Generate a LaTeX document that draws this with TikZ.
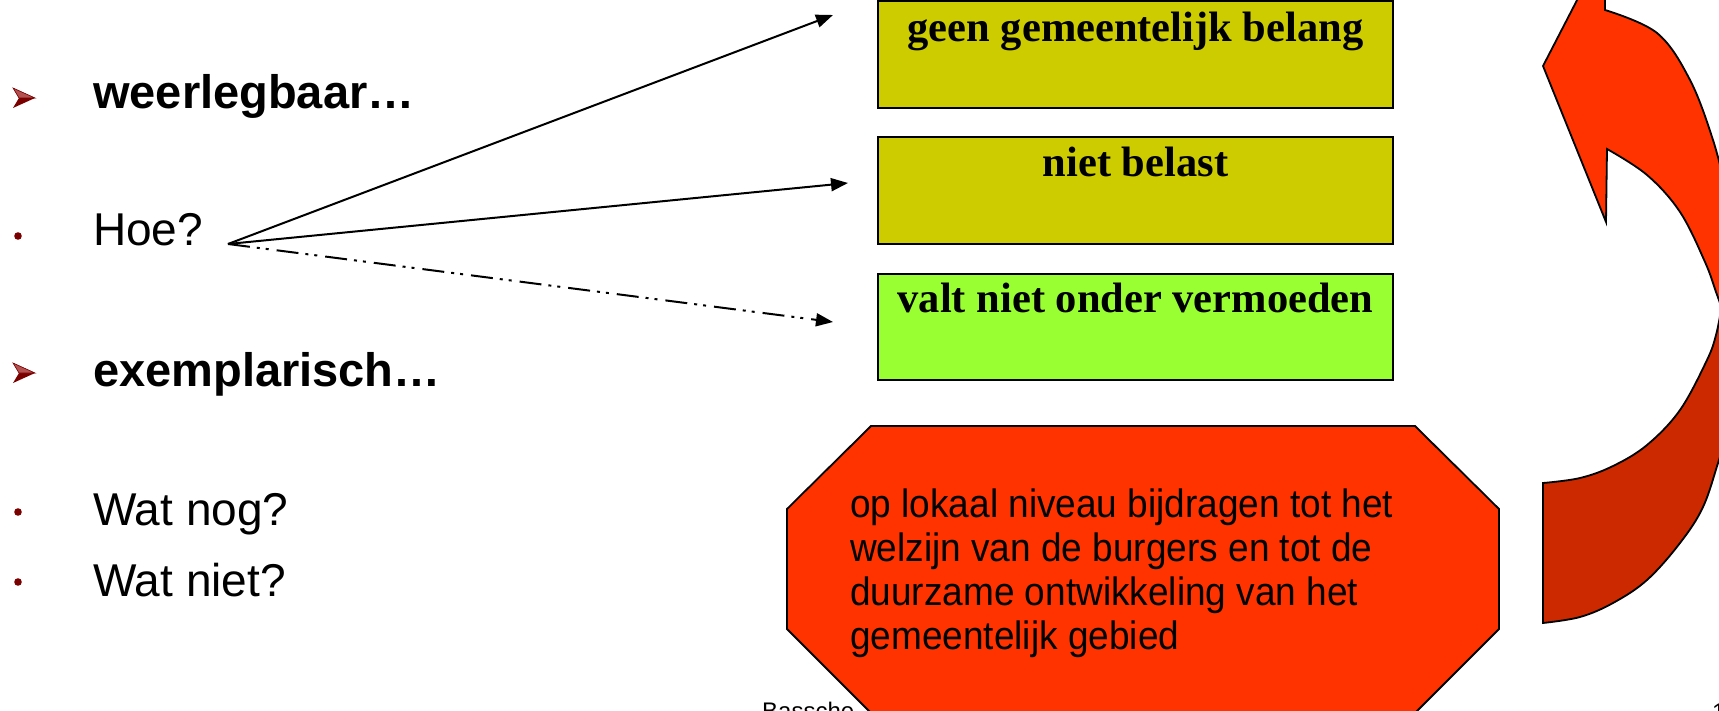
\documentclass[tikz,border=0pt]{standalone}
\usepackage{fontspec}
\setmainfont{Liberation Serif}
\newfontfamily\arialfont{Liberation Sans}
\usetikzlibrary{arrows.meta}
\definecolor{boxolive}{HTML}{CCCC00}
\definecolor{boxlime}{HTML}{99FF33}
\definecolor{hotred}{HTML}{FF3300}
\definecolor{deepred}{HTML}{CC2900}
\definecolor{bulletred}{HTML}{7A0000}
\definecolor{bulletlight}{HTML}{B35050}
\begin{document}
\begin{tikzpicture}[x=1pt,y=-1pt,
  leftlabel/.style={anchor=base west, inner sep=0pt, font=\arialfont\fontsize{46}{55}\selectfont},
  leftbold/.style={anchor=base west, inner sep=0pt, font=\arialfont\bfseries\fontsize{47}{56}\selectfont},
  boxshape/.style={draw=black, line width=2pt, minimum width=515pt, inner sep=0pt},
  boxtext/.style={anchor=base, inner sep=0pt, font=\bfseries\fontsize{42.5}{50}\selectfont},
  conn/.style={line width=2pt, -{Triangle[length=17pt,width=13pt]}},
  dotbullet/.style={fill=bulletred, draw=none},
  smalltext/.style={anchor=base west, inner sep=0pt, font=\arialfont\fontsize{24}{28}\selectfont},
  shapeline/.style={draw=black, line width=1.8pt, line join=miter}
]
\useasboundingbox (0,0) rectangle (1719,711);
\clip (0,0) rectangle (1719,711);

% footer text (partly hidden)
\node[smalltext] (foot) at (762,719) {Bassche};
\node[smalltext] (pagenum) at (1712,720) {1};

% left column
\fill[bulletred] (35,98) -- (13,88) -- (19,98) -- (13,108) -- cycle;
\filldraw[fill=bulletlight, draw=bulletred, line width=0.6pt] (35,98) -- (13,88) -- (19,98) -- cycle;
\node[leftbold] (weer) at (93,109) {weerlegbaar…};
\fill[dotbullet] (18,236) circle (3.8);
\node[leftlabel] (hoe) at (93,246) {Hoe?};
\fill[bulletred] (35,373) -- (13,363) -- (19,373) -- (13,383) -- cycle;
\filldraw[fill=bulletlight, draw=bulletred, line width=0.6pt] (35,373) -- (13,363) -- (19,373) -- cycle;
\node[leftbold] (exem) at (93,386) {exemplarisch…};
\fill[dotbullet] (18,512) circle (3.8);
\node[leftlabel] (watnog) at (93,525) {Wat nog?};
\fill[dotbullet] (18,582) circle (3.8);
\node[leftlabel] (watniet) at (93,596) {Wat niet?};

% boxes
\node[boxshape, fill=boxolive, minimum height=107pt] (box1) at (1135.5,54.5) {};
\node[boxtext] (txt1) at (1135.5,42) {geen gemeentelijk belang};
\node[boxshape, fill=boxolive, minimum height=107pt] (box2) at (1135.5,190.5) {};
\node[boxtext] (txt2) at (1135.5,177) {niet belast};
\node[boxshape, fill=boxlime, minimum height=106pt] (box3) at (1135.5,327) {};
\node[boxtext] (txt3) at (1135.5,313) {valt niet onder vermoeden};

% connectors
\coordinate (src) at (228,244);
\coordinate (end1) at (833,15);
\coordinate (end2) at (848,183);
\coordinate (end3) at (833,322);
\draw[conn] (src) -- (end1);
\draw[conn] (src) -- (end2);
\draw[conn, dash pattern=on 22pt off 7pt on 3pt off 6pt on 3pt off 8pt] (src) -- (end3);

% octagon
\filldraw[shapeline, fill=hotred] (871,426) -- (1415,426) -- (1499,509) -- (1499,629)
  -- (1415,713) -- (871,713) -- (787,629) -- (787,509) -- cycle;
\node[anchor=base west, inner sep=0pt, font=\arialfont\fontsize{37}{41.4}\selectfont] (goal) at (850,517)
  {\scalebox{1}[1.07]{\vtop{\hbox{op lokaal niveau bijdragen tot het}\hbox{welzijn van de burgers en tot de}\hbox{duurzame ontwikkeling van het}\hbox{gemeentelijk gebied}}}};

% curved arrow: bright upper part
\filldraw[shapeline, fill=hotred] (1543,66) -- (1605,-54) -- (1605,10)
  -- plot[smooth, tension=0.6] coordinates {(1605,10) (1657,33) (1690,80) (1713,140) (1726,190)}
  -- (1760,190) -- (1760,306) -- (1722,306)
  -- plot[smooth, tension=0.6] coordinates {(1721,306) (1716,292) (1705,262) (1680,212) (1647,175) (1607,149)}
  -- (1606,222) -- cycle;
% curved arrow: dark lower part
\filldraw[shapeline, fill=deepred] (1543,483) -- (1543,623)
  -- plot[smooth, tension=0.6] coordinates {(1543,623) (1580,617) (1613,603) (1647,580) (1680,543) (1703,507) (1719,460) (1735,410)}
  -- (1760,410) -- (1760,310) -- (1722,310)
  -- plot[smooth, tension=0.6] coordinates {(1721,310) (1716,335) (1707,360) (1680,410) (1647,445) (1613,466) (1580,478) (1543,483)}
  -- cycle;
\end{tikzpicture}
\end{document}
